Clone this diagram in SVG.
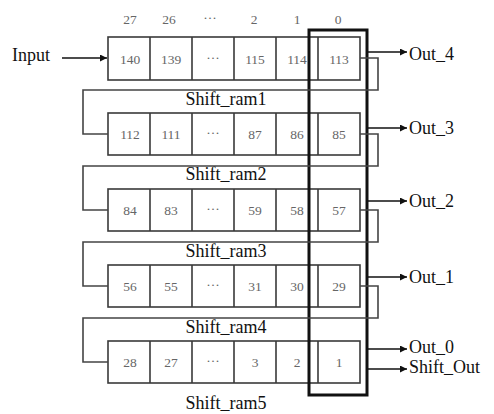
<svg xmlns="http://www.w3.org/2000/svg" width="494" height="414" viewBox="0 0 494 414">
<defs>
<marker id="ah" viewBox="0 0 10 10" refX="10" refY="5" markerWidth="11" markerHeight="7" markerUnits="userSpaceOnUse" orient="auto"><path d="M0,0 L10,5 L0,10 z" fill="#111"/></marker>
<style>
.cell{fill:none;stroke:#3a3a3a;stroke-width:1.6}
.num{font-size:13.5px;fill:#666;text-anchor:middle}
.lbl{font-size:18px;fill:#111}
.ctr{text-anchor:middle}
.wire{fill:none;stroke:#444;stroke-width:1.6}
.arr{fill:none;stroke:#111;stroke-width:1.5;marker-end:url(#ah)}
</style>
</defs>
<rect width="494" height="414" fill="#fff"/>
<g font-family="Liberation Serif, DejaVu Serif, serif">
<g id="indices">
<text class="num" x="130" y="24">27</text><text class="num" x="169" y="24">26</text><text class="num" x="210" y="22">···</text><text class="num" x="254" y="24">2</text><text class="num" x="297" y="24">1</text><text class="num" x="338" y="24">0</text>
</g>
<g id="input"><text class="lbl" x="12" y="61">Input</text></g>
<g id="ram1">
<rect class="cell" x="108" y="37" width="252" height="43"/>
<path class="cell" d="M150,37V80M192,37V80M234,37V80M276,37V80M318,37V80"/>
<text class="num" x="130" y="64">140</text><text class="num" x="171" y="64">139</text><text class="num" x="213" y="62">···</text><text class="num" x="255" y="64">115</text><text class="num" x="297" y="64">114</text><text class="num" x="339" y="64">113</text>
<text class="lbl ctr" x="226" y="105">Shift_ram1</text>
</g>
<g id="ram2">
<rect class="cell" x="108" y="113" width="252" height="42"/>
<path class="cell" d="M150,113V155M192,113V155M234,113V155M276,113V155M318,113V155"/>
<text class="num" x="130" y="139">112</text><text class="num" x="171" y="139">111</text><text class="num" x="213" y="137">···</text><text class="num" x="255" y="139">87</text><text class="num" x="297" y="139">86</text><text class="num" x="339" y="139">85</text>
<text class="lbl ctr" x="226" y="180">Shift_ram2</text>
</g>
<g id="ram3">
<rect class="cell" x="108" y="189" width="252" height="42"/>
<path class="cell" d="M150,189V231M192,189V231M234,189V231M276,189V231M318,189V231"/>
<text class="num" x="130" y="215">84</text><text class="num" x="171" y="215">83</text><text class="num" x="213" y="213">···</text><text class="num" x="255" y="215">59</text><text class="num" x="297" y="215">58</text><text class="num" x="339" y="215">57</text>
<text class="lbl ctr" x="226" y="257">Shift_ram3</text>
</g>
<g id="ram4">
<rect class="cell" x="108" y="265" width="252" height="42"/>
<path class="cell" d="M150,265V307M192,265V307M234,265V307M276,265V307M318,265V307"/>
<text class="num" x="130" y="291">56</text><text class="num" x="171" y="291">55</text><text class="num" x="213" y="289">···</text><text class="num" x="255" y="291">31</text><text class="num" x="297" y="291">30</text><text class="num" x="339" y="291">29</text>
<text class="lbl ctr" x="226" y="333">Shift_ram4</text>
</g>
<g id="ram5">
<rect class="cell" x="108" y="341" width="252" height="42"/>
<path class="cell" d="M150,341V383M192,341V383M234,341V383M276,341V383M318,341V383"/>
<text class="num" x="130" y="367">28</text><text class="num" x="171" y="367">27</text><text class="num" x="213" y="365">···</text><text class="num" x="255" y="367">3</text><text class="num" x="297" y="367">2</text><text class="num" x="339" y="367">1</text>
<text class="lbl ctr" x="226" y="409">Shift_ram5</text>
</g>
<g id="highlight"><rect x="309" y="30" width="58" height="365" fill="none" stroke="#111" stroke-width="3"/></g>
<g id="connectors">
<path class="arr" d="M62,58H107"/>
<path class="wire" d="M360,58H378V90H83V134H108"/>
<path class="wire" d="M360,134H378V166H83V210H108"/>
<path class="wire" d="M360,210H378V242H83V286H108"/>
<path class="wire" d="M360,286H378V318H83V362H108"/>
<path class="arr" d="M367,52H407"/>
<path class="arr" d="M367,128H407"/>
<path class="arr" d="M367,201H407"/>
<path class="arr" d="M367,277H407"/>
<path class="arr" d="M367,349H407"/>
<path class="arr" d="M367,369H407"/>
</g>
<g id="outputs">
<text class="lbl" x="409" y="60">Out_4</text>
<text class="lbl" x="409" y="134">Out_3</text>
<text class="lbl" x="409" y="207">Out_2</text>
<text class="lbl" x="409" y="283">Out_1</text>
<text class="lbl" x="409" y="353">Out_0</text>
<text class="lbl" x="409" y="373">Shift_Out</text>
</g>
</g>
</svg>
